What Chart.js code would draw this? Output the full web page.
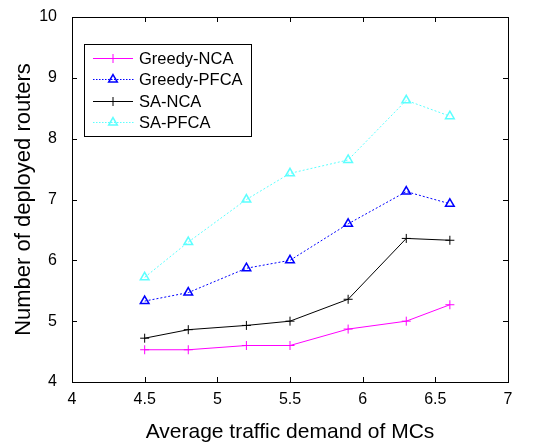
<!DOCTYPE html>
<html lang="en">
<head>
    <meta charset="UTF-8">
    <title>Deployed routers</title>
    <script src="https://cdn.jsdelivr.net/npm/chart.js"></script>
    <style>
        body { margin: 0; background: white; }
        .chart-wrapper { width: 553px; height: 445px; }
        canvas { width: 100% !important; height: 100% !important; }
    </style>
</head>
<body>
    <div class="chart-wrapper">
        <canvas id="routerChart"></canvas>
    </div>

    <script>
        const trafficDemand = [4.5, 4.8, 5.2, 5.5, 5.9, 6.3, 6.6];
        const greedyNCA = [4.53, 4.53, 4.6, 4.6, 4.87, 5.0, 5.27];
        const greedyPFCA = [5.33, 5.47, 5.87, 6.0, 6.6, 7.13, 6.93];
        const saNCA = [4.72, 4.86, 4.93, 5.0, 5.36, 6.36, 6.33];
        const saPFCA = [5.72, 6.3, 7.0, 7.43, 7.65, 8.63, 8.37];
        const xTicks = [4, 4.5, 5, 5.5, 6, 6.5, 7];
        const yTicks = [4, 5, 6, 7, 8, 9, 10];

        const FONT = 'Arial, "Liberation Sans", sans-serif';

        function toPoints(values) {
            return values.map((v, i) => ({ x: trafficDemand[i], y: v }));
        }

        function series(label, values, color, dash, pointStyle) {
            return {
                label: label,
                data: toPoints(values),
                borderColor: color,
                backgroundColor: 'rgba(0,0,0,0)',
                borderWidth: 1,
                borderDash: dash,
                pointStyle: pointStyle,
                pointRadius: pointStyle === 'cross' ? 4.5 : 5,
                pointBorderColor: color,
                pointBackgroundColor: 'rgba(0,0,0,0)',
                pointBorderWidth: pointStyle === 'cross' ? 1 : 1.5,
                tension: 0
            };
        }

        // inward ticks on all four sides + box + legend inside the plot
        const boxPlugin = {
            id: 'boxPlugin',
            afterDraw(chart) {
                const ctx = chart.ctx;
                const a = chart.chartArea;
                const xs = chart.scales.x, ys = chart.scales.y;
                ctx.save();
                ctx.strokeStyle = '#000';
                ctx.lineWidth = 1;
                ctx.strokeRect(a.left + 0.5, a.top + 0.5, a.right - a.left, a.bottom - a.top);
                ctx.beginPath();
                xTicks.forEach(t => {
                    const px = Math.round(xs.getPixelForValue(t)) + 0.5;
                    ctx.moveTo(px, a.bottom); ctx.lineTo(px, a.bottom - 5);
                    ctx.moveTo(px, a.top); ctx.lineTo(px, a.top + 5);
                });
                yTicks.forEach(t => {
                    const py = Math.round(ys.getPixelForValue(t)) + 0.5;
                    ctx.moveTo(a.left, py); ctx.lineTo(a.left + 5, py);
                    ctx.moveTo(a.right, py); ctx.lineTo(a.right - 5, py);
                });
                ctx.stroke();

                // legend
                const lx = 84, ly = 44, lw = 167, lh = 92;
                ctx.fillStyle = '#fff';
                ctx.fillRect(lx, ly, lw, lh);
                ctx.strokeRect(lx + 0.5, ly + 0.5, lw, lh);
                const rows = [58, 79, 101, 122];
                ctx.font = '16.5px ' + FONT;
                ctx.textBaseline = 'middle';
                chart.data.datasets.forEach((ds, i) => {
                    const y = rows[i];
                    ctx.fillStyle = ds.borderColor;
                    if (ds.borderDash.length) {
                        for (let x = 93; x < 133; x += 3) ctx.fillRect(x, y, 1.5, 1);
                    } else {
                        ctx.fillRect(93, y, 40, 1);
                    }
                    ctx.strokeStyle = ds.borderColor;
                    ctx.fillStyle = 'rgba(0,0,0,0)';
                    ctx.lineWidth = ds.pointBorderWidth;
                    Chart.helpers.drawPoint(ctx, {
                        pointStyle: ds.pointStyle, radius: ds.pointRadius, borderWidth: ds.pointBorderWidth
                    }, 113, y + 0.5);
                    ctx.fillStyle = '#000';
                    ctx.fillText(ds.label, 139, rows[i] + 1);
                });
                ctx.restore();
            }
        };

        const ctx = document.getElementById('routerChart').getContext('2d');
        new Chart(ctx, {
            type: 'line',
            data: {
                datasets: [
                    series('Greedy-NCA', greedyNCA, '#ff00ff', [], 'cross'),
                    series('Greedy-PFCA', greedyPFCA, '#0000ff', [2, 2], 'triangle'),
                    series('SA-NCA', saNCA, '#000000', [], 'cross'),
                    series('SA-PFCA', saPFCA, '#5cffff', [2, 2], 'triangle')
                ]
            },
            options: {
                responsive: true,
                maintainAspectRatio: false,
                animation: false,
                layout: { padding: { left: 0, right: 45, top: 17, bottom: 0 } },
                plugins: { legend: { display: false }, tooltip: { enabled: false } },
                scales: {
                    x: {
                        type: 'linear', min: 4, max: 7,
                        afterBuildTicks: s => { s.ticks = xTicks.map(v => ({ value: v })); },
                        afterFit: s => { s.height = 63; },
                        grid: { display: false },
                        border: { display: false },
                        ticks: { color: '#000', font: { family: FONT, size: 16 }, padding: 0,
                                 callback: v => String(v) },
                        title: { display: true, text: 'Average traffic demand of MCs', color: '#000',
                                 font: { family: FONT, size: 21 }, padding: { top: 0, bottom: 0 } }
                    },
                    y: {
                        min: 4, max: 10,
                        afterBuildTicks: s => { s.ticks = yTicks.map(v => ({ value: v })); },
                        afterFit: s => { s.width = 72; },
                        grid: { display: false },
                        border: { display: false },
                        ticks: { color: '#000', font: { family: FONT, size: 16 }, padding: 7,
                                 callback: v => String(v) },
                        title: { display: true, text: 'Number of deployed routers', color: '#000',
                                 font: { family: FONT, size: 22 }, padding: { top: 11, bottom: 0 } }
                    }
                }
            },
            plugins: [boxPlugin]
        });
    </script>
</body>
</html>
